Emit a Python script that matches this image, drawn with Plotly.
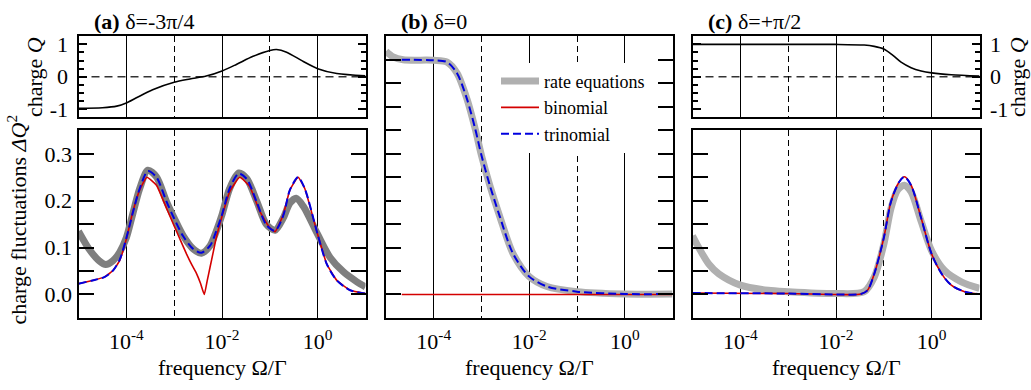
import plotly.graph_objects as go

# ---------------- data (log10 of frequency Omega/Gamma, values) ----------------
# panel (a)  delta = -3pi/4
a_q_logf = [-5, -4.5, -4.2, -4, -3.8, -3.45, -3, -2.67, -2.33, -2, -1.7, -1.35, -1, -0.86, -0.65, -0.3, 0, 0.4, 1]
a_q = [-0.98, -0.96, -0.91, -0.81, -0.66, -0.40, -0.17, -0.07, 0.02, 0.18, 0.38, 0.63, 0.81, 0.84, 0.76, 0.47, 0.25, 0.10, 0.03]

a_rate_logf = [-5, -4.78, -4.57, -4.43, -4.28, -4.14, -4, -3.87, -3.72, -3.55, -3.37, -3.16, -3, -2.81, -2.6,
               -2.43, -2.25, -2.12, -2, -1.84, -1.65, -1.48, -1.27, -1.07, -0.89, -0.72, -0.58, -0.45, -0.3,
               0, 0.26, 0.54, 0.82, 1]
a_rate = [0.135, 0.097, 0.072, 0.064, 0.072, 0.090, 0.121, 0.170, 0.226, 0.265, 0.251, 0.198, 0.163, 0.125, 0.097,
          0.088, 0.104, 0.135, 0.170, 0.226, 0.259, 0.247, 0.198, 0.149, 0.137, 0.163, 0.195, 0.205, 0.188,
          0.128, 0.079, 0.048, 0.027, 0.016]

a_bin_logf = [-5, -4.71, -4.46, -4.28, -4.14, -4, -3.87, -3.72, -3.57, -3.37, -3.16, -3, -2.87, -2.74, -2.63,
              -2.53, -2.45, -2.37, -2.31, -2.25, -2.18, -2.12, -2, -1.84, -1.63, -1.42, -1.21, -1, -0.89, -0.72,
              -0.58, -0.41, -0.27, 0, 0.19, 0.40, 0.68, 1]
a_bin = [0.023, 0.030, 0.037, 0.051, 0.072, 0.118, 0.174, 0.223, 0.250, 0.233, 0.184, 0.146, 0.116, 0.086, 0.063,
         0.044, 0.024, 0.0, 0.029, 0.058, 0.092, 0.121, 0.167, 0.219, 0.250, 0.230, 0.177, 0.142, 0.134, 0.170,
         0.223, 0.250, 0.226, 0.128, 0.065, 0.030, 0.009, 0.002]

a_tri_logf = [-5, -4.71, -4.46, -4.28, -4.14, -4, -3.87, -3.72, -3.55, -3.37, -3.16, -3, -2.81, -2.6, -2.43,
              -2.25, -2.12, -2, -1.84, -1.65, -1.48, -1.27, -1.07, -0.89, -0.72, -0.58, -0.41, -0.27, 0, 0.19,
              0.40, 0.68, 1]
a_tri = [0.023, 0.030, 0.037, 0.051, 0.074, 0.120, 0.172, 0.226, 0.263, 0.250, 0.198, 0.162, 0.124, 0.097, 0.089,
         0.104, 0.135, 0.170, 0.226, 0.258, 0.246, 0.196, 0.148, 0.136, 0.168, 0.223, 0.250, 0.226, 0.128, 0.065,
         0.030, 0.009, 0.002]

# panel (b)  delta = 0
b_rate_logf = [-5, -4.85, -4.64, -4, -3.72, -3.51, -3.3, -3.13, -3, -2.83, -2.62, -2.34, -2, -1.63, -1, 0, 1]
b_rate = [0.518, 0.506, 0.500, 0.499, 0.495, 0.471, 0.415, 0.352, 0.296, 0.234, 0.167, 0.087, 0.038, 0.017,
          0.006, 0.001, 0.001]
b_bin_logf = [-4.67, 1]
b_bin = [0.0, 0.0]
b_tri_logf = [-4.67, -4, -3.72, -3.51, -3.3, -3.13, -3, -2.83, -2.62, -2.34, -2, -1.63, -1, 0, 1]
b_tri = [0.500, 0.499, 0.495, 0.471, 0.415, 0.352, 0.296, 0.234, 0.167, 0.087, 0.038, 0.017, 0.006, 0.001, 0.001]

# panel (c)  delta = +pi/2
c_q_logf = [-5, -2, -1.41, -1.2, -1, -0.81, -0.64, -0.43, -0.22, 0, 0.41, 1]
c_q = [1.0, 1.0, 0.98, 0.94, 0.86, 0.66, 0.45, 0.28, 0.18, 0.12, 0.06, 0.02]

c_rate_logf = [-5, -4.87, -4.66, -4.45, -4, -3.42, -3, -2, -1.41, -1.2, -1, -0.85, -0.71, -0.57, -0.43, -0.22,
               0, 0.27, 0.62, 1]
c_rate = [0.125, 0.100, 0.065, 0.044, 0.020, 0.009, 0.006, 0.002, 0.006, 0.037, 0.107, 0.184, 0.223, 0.233,
          0.219, 0.156, 0.093, 0.051, 0.027, 0.013]

c_bin_logf = [-5, -3, -2, -1.48, -1.34, -1.2, -1, -0.85, -0.68, -0.57, -0.43, -0.22, 0, 0.21, 0.41, 0.69, 1]
c_bin = [0.003, 0.002, 0.0, 0.001, 0.009, 0.044, 0.121, 0.198, 0.240, 0.251, 0.233, 0.163, 0.086, 0.044, 0.020,
         0.006, 0.001]
c_tri_logf = c_bin_logf
c_tri = c_bin

x_tickvals = [1e-4, 1e-2, 1e0]
x_ticktext = ["10<sup>-4</sup>", "10<sup>-2</sup>", "10<sup>0</sup>"]
x_minorvals = [1e-3, 1e-1]
dq_tickvals = [0, 0.1, 0.2, 0.3, 0.4, 0.5]
dq_ticktext = ["0.0", "0.1", "0.2", "0.3", "0.4", "0.5"]
dq_minorvals = [0.05, 0.15, 0.25, 0.35, 0.45]
q_tickvals = [-1, 0, 1]
q_ticktext = ["-1", "0", "1"]
q_minorvals = [-1.25, -0.75, -0.5, -0.25, 0.25, 0.5, 0.75, 1.25]

# ---------------- figure ----------------
W, H = 1031, 390
FONT = "Liberation Serif, Times New Roman, serif"
GRAY_A = "#7f7f7f"
GRAY_BC = "#b0b0b0"
RED = "#d40000"
BLUE = "#0000e0"


def lx(v):
    return [10 ** t for t in v]


fig = go.Figure()


def add(xs, ys, xa, ya, color, width, dash="solid", name=None, show=False, smooth=0.8):
    fig.add_trace(go.Scatter(
        x=lx(xs), y=ys, xaxis=xa, yaxis=ya, mode="lines", name=name, showlegend=show,
        line=dict(color=color, width=width, dash=dash, shape="spline", smoothing=smooth),
        hoverinfo="skip"))


# (a)
add(a_q_logf, a_q, "x", "y", "black", 1.6)
add(a_rate_logf, a_rate, "x2", "y2", GRAY_A, 7)
add(a_bin_logf, a_bin, "x2", "y2", RED, 1.6, smooth=0.4)
add(a_tri_logf, a_tri, "x2", "y2", BLUE, 2, dash="8px,4px")
# (b)
add(b_rate_logf, b_rate, "x3", "y3", GRAY_BC, 7, name="rate equations", show=True)
add(b_bin_logf, b_bin, "x3", "y3", RED, 1.6, name="binomial", show=True)
add(b_tri_logf, b_tri, "x3", "y3", BLUE, 2, dash="8px,4px", name="trinomial", show=True)
# (c)
add(c_q_logf, c_q, "x4", "y4", "black", 1.6)
add(c_rate_logf, c_rate, "x5", "y5", GRAY_BC, 7)
add(c_bin_logf, c_bin, "x5", "y5", RED, 1.6)
add(c_tri_logf, c_tri, "x5", "y5", BLUE, 2, dash="8px,4px")

col_x = [(78.5, 365.5), (386, 672.5), (692.5, 979.5)]
top_y = (33, 115.5)
bot_y = (129, 320.5)


def dx(c):
    return [col_x[c][0] / W, col_x[c][1] / W]


def dy(r):
    return [1 - r[1] / H, 1 - r[0] / H]


def xaxis_cfg(c, labels):
    return dict(
        domain=dx(c), type="log", range=[-5, 1], tickvals=x_tickvals, ticktext=x_ticktext,
        showticklabels=labels, ticks="", showline=True, linecolor="black", linewidth=2, mirror=True,
        showgrid=True, gridcolor="black", gridwidth=1, zeroline=False,
        minor=dict(tickvals=x_minorvals, showgrid=True, gridcolor="black", gridwidth=1, griddash="6px,4px",
                   ticks=""),
        tickfont=dict(family=FONT, size=22, color="black"), ticklabelstandoff=3,
    )


def yaxis_dq(c, anchor, labels, rng):
    return dict(
        domain=dy(bot_y) if c != 1 else [1 - bot_y[1] / H, 1 - top_y[0] / H], anchor=anchor,
        range=rng, tickvals=dq_tickvals, ticktext=dq_ticktext, showticklabels=labels,
        ticks="inside", ticklen=15, tickwidth=2, tickcolor="black",
        showline=True, linecolor="black", linewidth=2, mirror="allticks",
        showgrid=False, zeroline=False,
        minor=dict(tickvals=dq_minorvals, ticks="inside", ticklen=15, tickwidth=2, tickcolor="black",
                   showgrid=False),
        tickfont=dict(family=FONT, size=22, color="black"), ticklabelstandoff=0,
    )


def yaxis_q(c, anchor, side, labels):
    return dict(
        domain=dy(top_y), anchor=anchor, side=side, range=[-1.25, 1.25],
        tickvals=q_tickvals, ticktext=q_ticktext, showticklabels=labels,
        ticks="inside", ticklen=8, tickwidth=2, tickcolor="black",
        showline=True, linecolor="black", linewidth=2, mirror="allticks",
        showgrid=False, zeroline=False,
        minor=dict(tickvals=q_minorvals, ticks="inside", ticklen=5, tickwidth=1.5, tickcolor="black",
                   showgrid=False),
        tickfont=dict(family=FONT, size=22, color="black"), ticklabelstandoff=4,
    )


fig.update_layout(
    width=W, height=H, margin=dict(l=0, r=0, t=0, b=0),
    paper_bgcolor="white", plot_bgcolor="white",
    font=dict(family=FONT, size=22, color="black"),
    xaxis=dict(xaxis_cfg(0, False), anchor="y"),
    yaxis=yaxis_q(0, "x", "left", True),
    xaxis2=dict(xaxis_cfg(0, True), anchor="y2"),
    yaxis2=yaxis_dq(0, "x2", True, [-0.05, 0.35]),
    xaxis3=dict(xaxis_cfg(1, True), anchor="y3"),
    yaxis3=yaxis_dq(1, "x3", False, [-0.05, 0.55]),
    xaxis4=dict(xaxis_cfg(2, False), anchor="y4"),
    yaxis4=yaxis_q(2, "x4", "right", True),
    xaxis5=dict(xaxis_cfg(2, True), anchor="y5"),
    yaxis5=yaxis_dq(2, "x5", False, [-0.05, 0.35]),
    legend=dict(x=496 / W, y=1 - 60 / H, xanchor="left", yanchor="top", bgcolor="white",
                borderwidth=0, font=dict(family=FONT, size=18, color="black"),
                itemwidth=38, tracegroupgap=0),
    showlegend=True,
)

# dashed Q=0 reference lines in the charge panels
for xr, yr in (("x", "y"), ("x4", "y4")):
    fig.add_shape(type="line", xref=xr + " domain", yref=yr, x0=0, x1=1, y0=0, y1=0,
                  line=dict(color="#333333", width=1.5, dash="8px,5px"), layer="below")

ann = []
titles = [("<b>(a)</b> δ=-3π/4", "x"), ("<b>(b)</b> δ=0", "x3"), ("<b>(c)</b> δ=+π/2", "x4")]
for txt, xr in titles:
    ann.append(dict(text=txt, xref=xr + " domain", x=0, xshift=13, xanchor="left",
                    yref="paper", y=1 - 17.5 / H, yanchor="middle", showarrow=False,
                    font=dict(family=FONT, size=22, color="black")))
for xr in ("x2", "x3", "x5"):
    ann.append(dict(text="frequency Ω/Γ", xref=xr + " domain", x=0.5, xanchor="center",
                    yref="paper", y=1 - 371 / H, yanchor="middle", showarrow=False,
                    font=dict(family=FONT, size=22, color="black")))
ann.append(dict(text="charge <i>Q</i>", xref="paper", x=35 / W, xanchor="center", yref="paper",
                y=1 - 74.5 / H, yanchor="middle", textangle=-90, showarrow=False,
                font=dict(family=FONT, size=22, color="black")))
ann.append(dict(text="charge <i>Q</i>", xref="paper", x=1018 / W, xanchor="center", yref="paper",
                y=1 - 74.5 / H, yanchor="middle", textangle=-90, showarrow=False,
                font=dict(family=FONT, size=22, color="black")))
ann.append(dict(text="charge fluctuations <i>ΔQ</i><sup>2</sup>", xref="paper", x=17 / W, xanchor="center",
                yref="paper", y=1 - 220 / H, yanchor="middle", textangle=-90, showarrow=False,
                font=dict(family=FONT, size=22, color="black")))
fig.update_layout(annotations=ann)

fig.write_html("out.html")
